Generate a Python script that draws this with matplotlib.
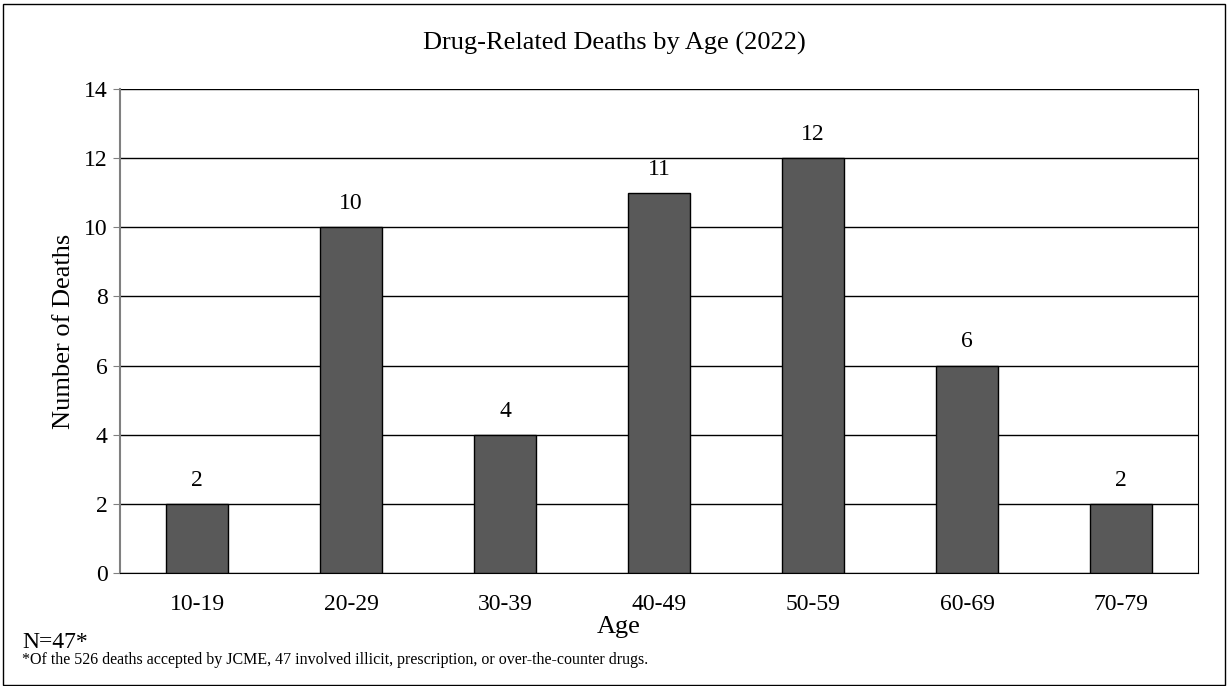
import matplotlib
matplotlib.use("Agg")
import matplotlib.pyplot as plt
from matplotlib.patches import Rectangle

categories = ["10-19", "20-29", "30-39", "40-49", "50-59", "60-69", "70-79"]
deaths = [2, 10, 4, 11, 12, 6, 2]
yticks = [0, 2, 4, 6, 8, 10, 12, 14]

plt.rcParams['font.family'] = ['Liberation Serif', 'DejaVu Serif']

fig = plt.figure(figsize=(12.3, 6.86), dpi=100)
ax = fig.add_axes([120/1230, 1-573/686, (1198-120)/1230, (573-89)/686])

x = list(range(len(categories)))
bars = ax.bar(x, deaths, width=0.4, color="#595959", edgecolor="black", linewidth=1, zorder=3)
for xi, v in zip(x, deaths):
    ax.annotate(str(v), (xi, v), xytext=(0, 17), textcoords="offset points",
                ha="center", va="center", fontsize=17)

ax.set_xlim(-0.5, len(categories) - 0.5)
ax.set_ylim(0, 14)
ax.set_yticks(yticks)
ax.set_xticks(x)
ax.set_xticklabels(categories)
ax.yaxis.grid(True, color="black", linewidth=1, zorder=0)
ax.tick_params(axis="x", length=0, labelsize=17, pad=15)
ax.tick_params(axis="y", length=5, color="#808080", labelsize=17, pad=4)
ax.spines["left"].set_color("#808080")
ax.spines["left"].set_linewidth(1.5)
for s in ["top", "right", "bottom"]:
    ax.spines[s].set_color("black")
ax.spines["top"].set_visible(False)
ax.set_ylabel("Number of Deaths", fontsize=19, labelpad=6)

fig.text(614/1230, 1-43/686, "Drug-Related Deaths by Age (2022)", ha="center", va="center", fontsize=19)
fig.text(619/1230, 1-627/686, "Age", ha="center", va="center", fontsize=19)
fig.text(22/1230, 1-642/686, "N=47*", ha="left", va="center", fontsize=17)
fig.text(22/1230, 1-660/686,
         "*Of the 526 deaths accepted by JCME, 47 involved illicit, prescription, or over-the-counter drugs.",
         ha="left", va="center", fontsize=11.5)

fig.patches.append(Rectangle((3/1230, 1/686), 1222/1230, 681/686, transform=fig.transFigure,
                             fill=False, edgecolor="black", linewidth=1))

fig.savefig("out.png", dpi=100)
